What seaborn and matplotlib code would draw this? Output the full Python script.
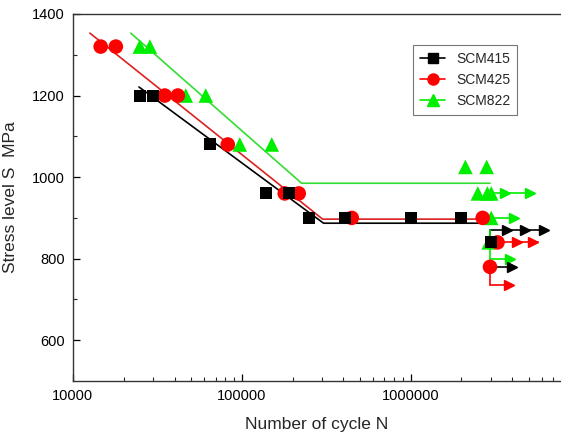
import numpy as np
import pandas as pd
import matplotlib
matplotlib.use("Agg")
import matplotlib.pyplot as plt
import seaborn as sns
from matplotlib.lines import Line2D
from matplotlib.ticker import FixedLocator, LogLocator, NullFormatter

# S-N test data (cycles, stress MPa)
scm415_n = [24900, 29700, 64700, 138700, 190000, 249000, 406000, 1000000, 1980000, 3000000]
scm415_s = [1200, 1200, 1080, 960, 960, 900, 900, 900, 900, 840]
scm425_n = [14600, 17950, 35000, 41800, 82600, 179600, 217400, 448000, 2670000, 3270000, 2950000]
scm425_s = [1320, 1320, 1200, 1200, 1080, 960, 960, 900, 900, 840, 780]
scm822_n = [24900, 28550, 46600, 61200, 97300, 150500, 2110000, 2820000, 2500000, 2850000, 3000000, 3000000, 2900000]
scm822_s = [1320, 1320, 1200, 1200, 1080, 1080, 1025, 1025, 960, 960, 960, 900, 840]

# fitted S-N curves (start, knee, end)
fit415_n = [24600, 305000, 2970000]
fit415_s = [1221, 887, 887]
fit425_n = [12600, 301000, 2950000]
fit425_s = [1353, 897, 897]
fit822_n = [22000, 226000, 2950000]
fit822_s = [1353, 985, 985]

# run-out arrows: material, stress, start N, end N, arrow head N values
runouts = [
    ("SCM415", 870, 2970000, 6400000, [3700000, 4730000, 6200000]),
    ("SCM425", 840, 3000000, 5640000, [4240000, 5270000]),
    ("SCM822", 800, 2970000, 3960000, [3900000]),
    ("SCM415", 780, 2950000, 4000000, [4000000]),
    ("SCM425", 735, 2950000, 3800000, [3800000]),
    ("SCM822", 960, 3050000, 5060000, [3600000, 5060000]),
    ("SCM822", 900, 3000000, 4120000, [4120000]),
]
# vertical connectors: material, N, stress from, stress to
connectors = [
    ("SCM415", 2970000, 870, 840),
    ("SCM822", 2970000, 870, 800),
    ("SCM425", 2950000, 780, 735),
]

colors = {"SCM415": "black", "SCM425": "#ff0000", "SCM822": "#00ee00"}
line_colors = {"SCM415": "black", "SCM425": "#dd2020", "SCM822": "#33dd33"}
markers = {"SCM415": "s", "SCM425": "o", "SCM822": "^"}
sizes = {"SCM415": 75, "SCM425": 110, "SCM822": 110}

df = pd.concat([
    pd.DataFrame({"N": scm415_n, "S": scm415_s, "mat": "SCM415"}),
    pd.DataFrame({"N": scm425_n, "S": scm425_s, "mat": "SCM425"}),
    pd.DataFrame({"N": scm822_n, "S": scm822_s, "mat": "SCM822"}),
], ignore_index=True)

sns.set_style("ticks")
plt.rcParams["font.family"] = ["Liberation Sans", "DejaVu Sans"]

fig = plt.figure(figsize=(5.61, 4.36), dpi=100)
ax = fig.add_axes([0.130, 0.126, 0.870, 0.842])

fits = {"SCM415": (fit415_n, fit415_s), "SCM425": (fit425_n, fit425_s), "SCM822": (fit822_n, fit822_s)}
for mat, (fn, fs) in fits.items():
    ax.plot(fn, fs, color=line_colors[mat], lw=1.2, zorder=2)

for mat, y, x0, x1, heads in runouts:
    ax.plot([x0, x1], [y, y], color=colors[mat], lw=1.2, zorder=2)
    ax.plot(heads, [y] * len(heads), ls="none", marker=">", ms=6.5, color=colors[mat], zorder=2)
for mat, x, y0, y1 in connectors:
    ax.plot([x, x], [y0, y1], color=colors[mat], lw=1.2, zorder=2)

for mat in ["SCM822", "SCM425", "SCM415"]:
    sub = df[df["mat"] == mat]
    sns.scatterplot(data=sub, x="N", y="S", ax=ax, marker=markers[mat], color=colors[mat],
                    s=sizes[mat], edgecolor="none", legend=False, zorder=3)

ax.set_xscale("log")
ax.set_xlim(10000, 7.77e6)
ax.set_ylim(500, 1400)
ax.xaxis.set_major_locator(FixedLocator([1e4, 1e5, 1e6]))
ax.set_xticklabels(["10000", "100000", "1000000"])
ax.xaxis.set_minor_locator(LogLocator(base=10, subs=np.arange(2, 10), numticks=20))
ax.xaxis.set_minor_formatter(NullFormatter())
ax.set_yticks([600, 800, 1000, 1200, 1400])
ax.set_yticks([700, 900, 1100, 1300], minor=True)
ax.tick_params(which="major", direction="in", length=5, width=0.9, labelsize=10.5, colors="black", pad=6)
ax.tick_params(which="minor", direction="in", length=3, width=0.8)
for side in ["left", "bottom", "top"]:
    ax.spines[side].set_color("#333333")
    ax.spines[side].set_linewidth(1.0)
ax.spines["right"].set_visible(False)

ax.set_xlabel("Number of cycle N", fontsize=12.5, labelpad=10)
ax.set_ylabel("Stress level S  MPa", fontsize=12.5, labelpad=10)

handles = [Line2D([0], [0], color=colors[m], marker=markers[m], ms=8 if m != "SCM415" else 7,
                  lw=1.2, markeredgecolor=colors[m]) for m in ["SCM415", "SCM425", "SCM822"]]
leg = ax.legend(handles, ["SCM415", "SCM425", "SCM822"], loc="upper left",
                bbox_to_anchor=(0.697, 0.916), borderaxespad=0, fontsize=10, frameon=True,
                fancybox=False, edgecolor="#555555", handlelength=1.8, borderpad=0.5,
                labelspacing=0.5)
leg.get_frame().set_linewidth(0.8)

fig.savefig("out.png", dpi=100)
